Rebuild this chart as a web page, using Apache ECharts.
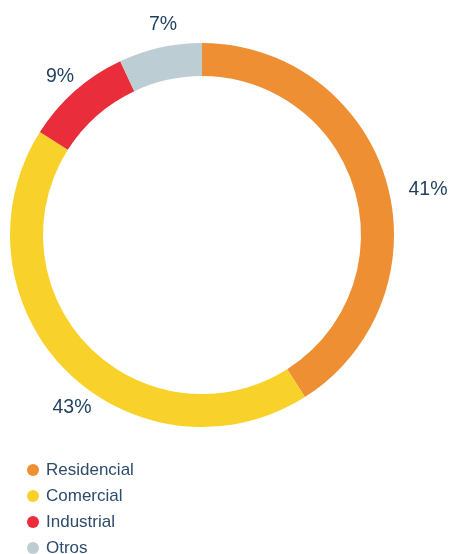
<!DOCTYPE html>
<html>
<head>
<meta charset="utf-8">
<script src="https://cdn.jsdelivr.net/npm/echarts@6/dist/echarts.min.js"></script>
<style>
  html, body { margin: 0; padding: 0; background: #fff; }
  #chart { width: 450px; height: 554px; }
</style>
</head>
<body>
<div id="chart"></div>
<script>
// datos del gráfico
var categories = ['Residencial', 'Comercial', 'Industrial', 'Otros']
var values = [41, 43, 9, 7]
var colors = ['#EF8F33', '#F8D22A', '#E92D3A', '#BCCDD4']

// posición de las etiquetas (%)
var labelPos = [[428, 190], [72, 408], [60, 77], [163, 25]]

var chart = echarts.init(document.getElementById('chart'))
chart.setOption({
  animation: false,
  color: colors,
  textStyle: { fontFamily: 'Liberation Sans, Arial, sans-serif' },
  legend: {
    orient: 'vertical',
    left: 22,
    top: 456,
    height: 200,
    icon: 'circle',
    itemWidth: 12,
    itemHeight: 12,
    itemGap: 8,
    textStyle: { fontSize: 17, lineHeight: 18, color: '#2D4B6B', padding: [0, 0, 0, 2] },
    data: categories
  },
  series: [{
    type: 'pie',
    center: [202, 235],
    radius: [159, 192],
    startAngle: 90,
    clockwise: true,
    silent: true,
    label: {
      show: true,
      position: 'outside',
      formatter: '{c}%',
      fontSize: 19.5,
      color: '#1E3F5E',
      overflow: 'none',
      width: 80
    },
    labelLine: { show: false },
    labelLayout: function (params) {
      var p = labelPos[params.dataIndex]
      return { x: p[0], y: p[1], align: 'center', verticalAlign: 'middle' }
    },
    data: categories.map(function (name, i) {
      return { name: name, value: values[i] }
    })
  }]
})
</script>
</body>
</html>
